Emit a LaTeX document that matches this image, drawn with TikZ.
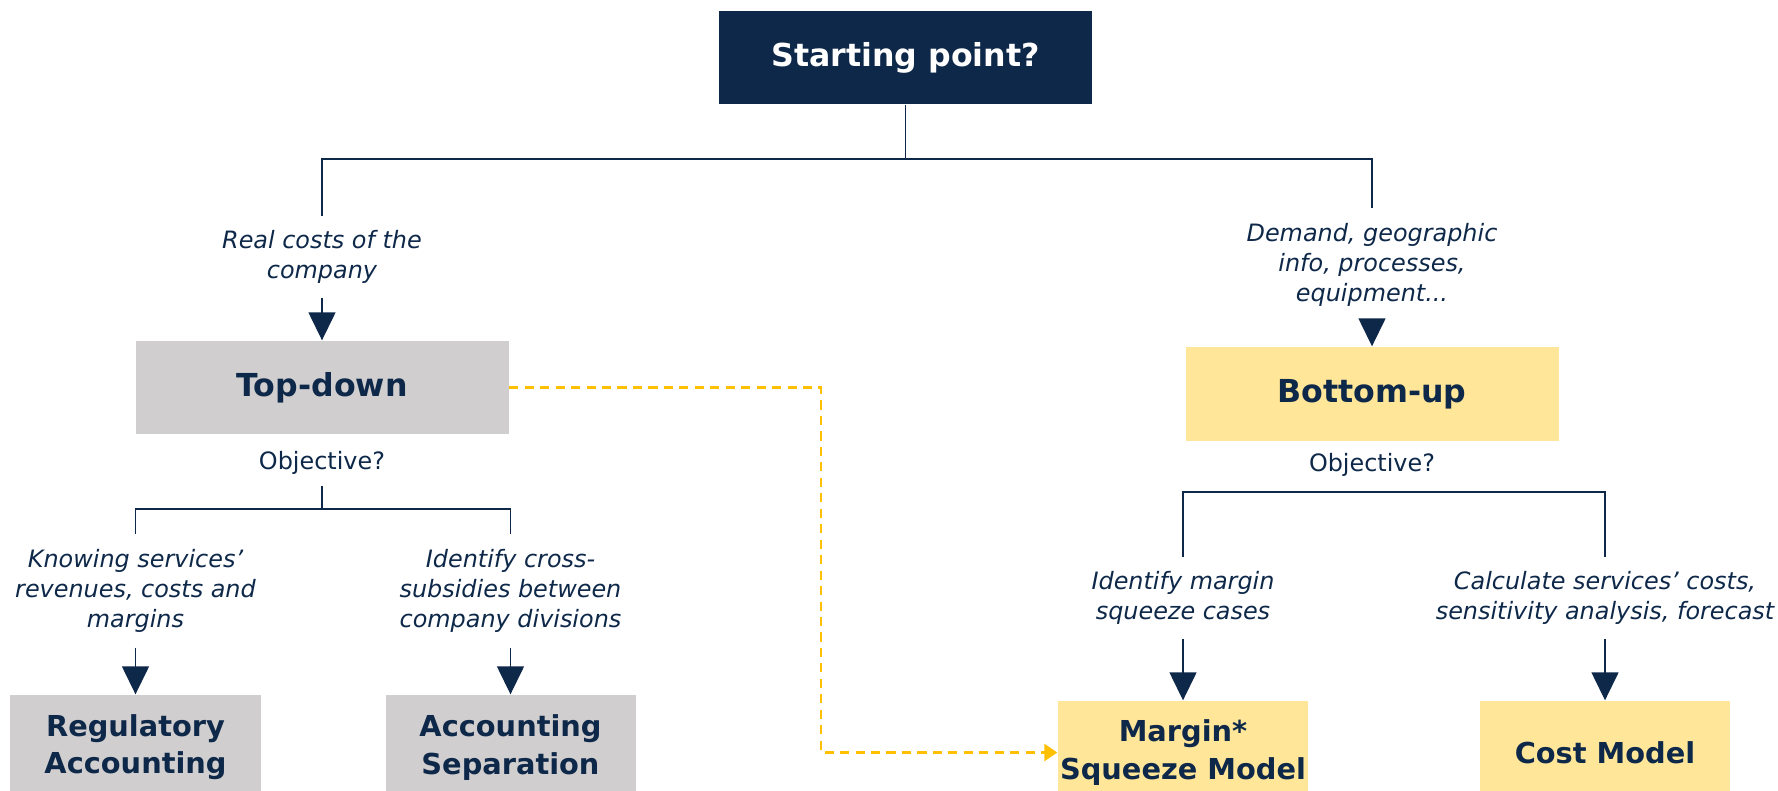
\documentclass[tikz,border=0pt]{standalone}
\usepackage{fontspec}
\setmainfont{DejaVu Sans}
\usetikzlibrary{arrows.meta}

\begin{document}
\begin{tikzpicture}[line join=miter,
    box/.style={rectangle, inner sep=0pt, align=center, text=navy,
      font=\bfseries\fontsize{9}{11}\selectfont},
    leaf/.style={box, minimum width=2.5cm, minimum height=1.05cm,
      font=\bfseries\fontsize{8.2}{10.6}\selectfont},
    hint/.style={align=center, text=navy, inner sep=4pt,
      font=\itshape\fontsize{6.8}{8.6}\selectfont},
    ask/.style={text=navy, inner sep=3pt, font=\fontsize{6.8}{8.5}\selectfont},
    link/.style={draw=navy, line width=0.4pt},
    pick/.style={link, -{Triangle[length=0.28cm,width=0.27cm]}},
    alt/.style={draw=gold, line width=0.8pt, dash pattern=on 2.6pt off 1.8pt,
      -{Triangle[length=0.13cm,width=0.17cm]}}]
  \definecolor{navy}{RGB}{14,40,73}
  \definecolor{stone}{RGB}{208,206,206}
  \definecolor{sand}{RGB}{255,230,153}
  \definecolor{gold}{RGB}{255,192,0}

  \useasboundingbox (0,0) rectangle (17.78,-7.90);

  \node[box, fill=navy, text=white, minimum width=3.73cm, minimum height=0.93cm]
    (start) at (9.055,-0.575) {Starting point?};

  \node[hint] (costs) at (3.22,-2.57) {Real costs of the\\company};
  \node[hint] (inputs) at (13.72,-2.65) {Demand, geographic\\info, processes,\\equipment...};

  \node[box, fill=stone, minimum width=3.73cm, minimum height=0.93cm]
    (topdown) at (3.22,-3.875) {Top-down};
  \node[box, fill=sand, minimum width=3.73cm, minimum height=0.94cm]
    (bottomup) at (13.72,-3.94) {Bottom-up};

  \node[ask] (obj1) at (3.22,-4.63) {Objective?};
  \node[ask] (obj2) at (13.72,-4.65) {Objective?};

  \node[hint] (know) at (1.355,-5.91) {Knowing services’\\revenues, costs and\\margins};
  \node[hint] (cross) at (5.105,-5.91) {Identify cross-\\subsidies between\\company divisions};
  \node[hint] (ident) at (11.83,-5.98) {Identify margin\\squeeze cases};
  \node[hint] (calc) at (16.05,-5.98) {Calculate services’ costs,\\sensitivity analysis, forecast};

  \node[leaf, fill=stone] (regacc) at (1.355,-7.475) {Regulatory\\Accounting};
  \node[leaf, fill=stone] (accsep) at (5.105,-7.475) {Accounting\\Separation};
  \node[leaf, fill=sand, minimum height=1.03cm] (msm) at (11.83,-7.525) {Margin*\\Squeeze Model};
  \node[leaf, fill=sand, minimum height=1.03cm] (cost) at (16.05,-7.525) {Cost Model};

  \coordinate (fork) at (9.055,-1.59);
  \coordinate (fork1) at (3.22,-5.09);
  \coordinate (fork2) at (13.72,-4.92);
  \coordinate (bend) at (8.21,-3.875);

  \draw[link] (start.south) -- (fork) -| (costs.north);
  \draw[link] (fork) -| (inputs.north);
  \draw[pick] (costs) -- (topdown);
  \draw[pick] (inputs) -- (bottomup);

  \draw[link] (obj1) -- (fork1);
  \draw[link] (know.north) |- (fork1) -| (cross.north);
  \draw[link] (ident.north) |- (fork2) -| (calc.north);

  \draw[pick] (know) -- (regacc);
  \draw[pick] (cross) -- (accsep);
  \draw[pick] (ident) -- (msm);
  \draw[pick] (calc) -- (cost);

  \draw[alt] (topdown.east) -- (bend) |- (msm.west);
\end{tikzpicture}
\end{document}
